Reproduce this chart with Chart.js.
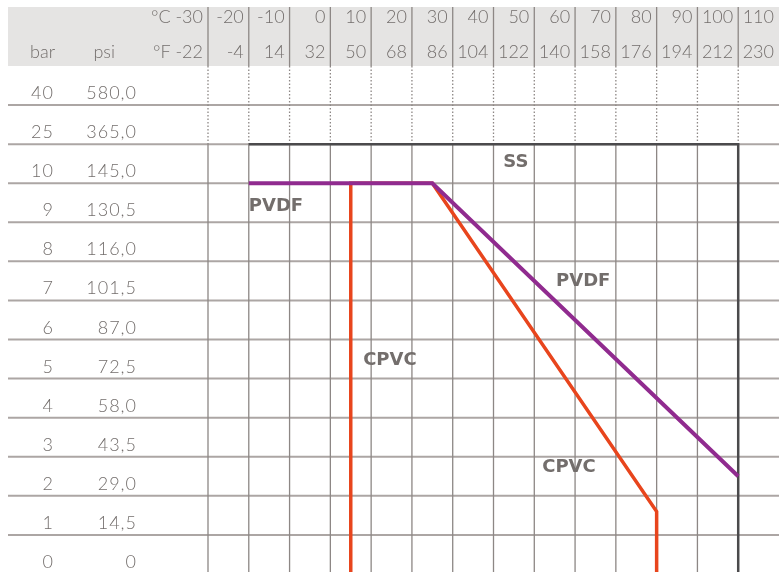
<!DOCTYPE html>
<html>
<head>
<meta charset="utf-8">
<script src="https://cdn.jsdelivr.net/npm/chart.js@4.4.1/dist/chart.umd.min.js"></script>
<style>
  html, body { margin: 0; padding: 0; background: #fff; }
  #wrap { width: 779px; height: 572px; }
</style>
</head>
<body>
<div id="wrap"><canvas id="pressureChart" width="779" height="572"></canvas></div>
<script>
// temperature columns
const tempC = [-30, -20, -10, 0, 10, 20, 30, 40, 50, 60, 70, 80, 90, 100, 110];
const tempF = ['-22', '-4', '14', '32', '50', '68', '86', '104', '122', '140', '158', '176', '194', '212', '230'];

// pressure rows, bottom to top
const barRows = ['0', '1', '2', '3', '4', '5', '6', '7', '8', '9', '10', '25', '40'];
const psiRows = ['0', '14,5', '29,0', '43,5', '58,0', '72,5', '87,0', '101,5', '116,0', '130,5', '145,0', '365,0', '580,0'];

// material limits (°C, bar)
const ssTemp = [-20, 100, 100];
const ssBar = [25, 25, 0];
const pvdfTemp = [-20, 25, 100];
const pvdfBar = [10, 10, 2.5];
const cpvcTemp = [5, 5, 25, 80, 80];
const cpvcBar = [0, 10, 10, 1.6, 0];

// text labels inside the grid (°C, row)
const noteText = ['SS', 'PVDF', 'PVDF', 'CPVC', 'CPVC'];
const noteTemp = [45.5, -20, 62, 14.6, 58.5];
const noteRow = [10.54, 9.42, 7.5, 5.48, 2.74];
const noteAlign = ['center', 'left', 'center', 'center', 'center'];

// rows above 10 bar are not to scale
function rowOf(bar) {
    return bar <= 10 ? bar : barRows.indexOf(String(bar));
}

function points(temps, bars) {
    return temps.map((t, i) => ({ x: t, y: rowOf(bars[i]) }));
}

const textGray = '#736e6c';
const lightFont = '300 18px Lato';

const tablePlugin = {
    id: 'table',
    beforeDatasetsDraw(chart) {
        const ctx = chart.ctx;
        const xs = chart.scales.x;
        const ys = chart.scales.y;
        const top = ys.getPixelForValue(13);
        const bottom = chart.chartArea.bottom;
        const right = chart.width;
        ctx.save();

        // header band
        ctx.fillStyle = '#e5e4e3';
        ctx.fillRect(8, 7, right - 8, top - 7);

        // row lines
        ctx.strokeStyle = '#aca6a4';
        ctx.lineWidth = 2;
        for (let r = 1; r <= 12; r++) {
            const y = ys.getPixelForValue(r);
            ctx.beginPath();
            ctx.moveTo(8, y);
            ctx.lineTo(right, y);
            ctx.stroke();
        }

        // column lines
        const split = ys.getPixelForValue(11);
        ctx.strokeStyle = '#8d8785';
        ctx.lineWidth = 1.3;
        tempC.slice(0, -1).forEach(t => {
            const x = xs.getPixelForValue(t);
            ctx.setLineDash([]);
            ctx.beginPath();
            ctx.moveTo(x, 7);
            ctx.lineTo(x, top);
            ctx.moveTo(x, split);
            ctx.lineTo(x, bottom);
            ctx.stroke();
            ctx.setLineDash([1.5, 2]);
            ctx.beginPath();
            ctx.moveTo(x, top);
            ctx.lineTo(x, split);
            ctx.stroke();
        });
        ctx.setLineDash([]);

        // header labels
        ctx.fillStyle = textGray;
        ctx.font = lightFont;
        ctx.textBaseline = 'alphabetic';
        ctx.textAlign = 'right';
        tempC.forEach((t, i) => {
            const x = xs.getPixelForValue(t) - 5;
            ctx.fillText((i === 0 ? '°C ' : '') + t, x, 22.5);
            ctx.fillText((i === 0 ? '°F ' : '') + tempF[i], x, 57.5);
        });
        ctx.fillText('bar', 55, 57.5);
        ctx.fillText('psi', 115, 57.5);

        // row labels
        ctx.letterSpacing = '1px';
        barRows.forEach((b, r) => {
            const y = ys.getPixelForValue(r) - 6;
            ctx.fillText(b, 54, y);
            ctx.fillText(psiRows[r], 137, y);
        });
        ctx.restore();
    },
    afterDatasetsDraw(chart) {
        const ctx = chart.ctx;
        const xs = chart.scales.x;
        const ys = chart.scales.y;
        ctx.save();
        ctx.fillStyle = textGray;
        ctx.font = 'bold 18px "DejaVu Sans"';
        ctx.textBaseline = 'middle';
        noteText.forEach((txt, i) => {
            ctx.textAlign = noteAlign[i];
            ctx.fillText(txt, xs.getPixelForValue(noteTemp[i]), ys.getPixelForValue(noteRow[i]));
        });
        ctx.restore();
    }
};

const ctx = document.getElementById('pressureChart').getContext('2d');
const chart = new Chart(ctx, {
    type: 'line',
    data: {
        // first dataset is drawn on top
        datasets: [
            { label: 'PVDF', data: points(pvdfTemp, pvdfBar), borderColor: '#902b8f', borderWidth: 4 },
            { label: 'CPVC', data: points(cpvcTemp, cpvcBar), borderColor: '#e8451d', borderWidth: 3.5 },
            { label: 'SS', data: points(ssTemp, ssBar), borderColor: '#4b4a4c', borderWidth: 2.5 }
        ]
    },
    options: {
        responsive: false,
        animation: false,
        layout: { padding: { left: 208, top: 66, right: 0, bottom: 0 } },
        elements: {
            point: { radius: 0 },
            line: { tension: 0, borderJoinStyle: 'miter', fill: false }
        },
        scales: {
            x: { type: 'linear', min: -30, max: 110, display: false },
            y: { type: 'linear', min: 0.05, max: 13, display: false }
        },
        plugins: {
            legend: { display: false },
            tooltip: { enabled: false }
        }
    },
    plugins: [tablePlugin]
});
</script>
</body>
</html>
